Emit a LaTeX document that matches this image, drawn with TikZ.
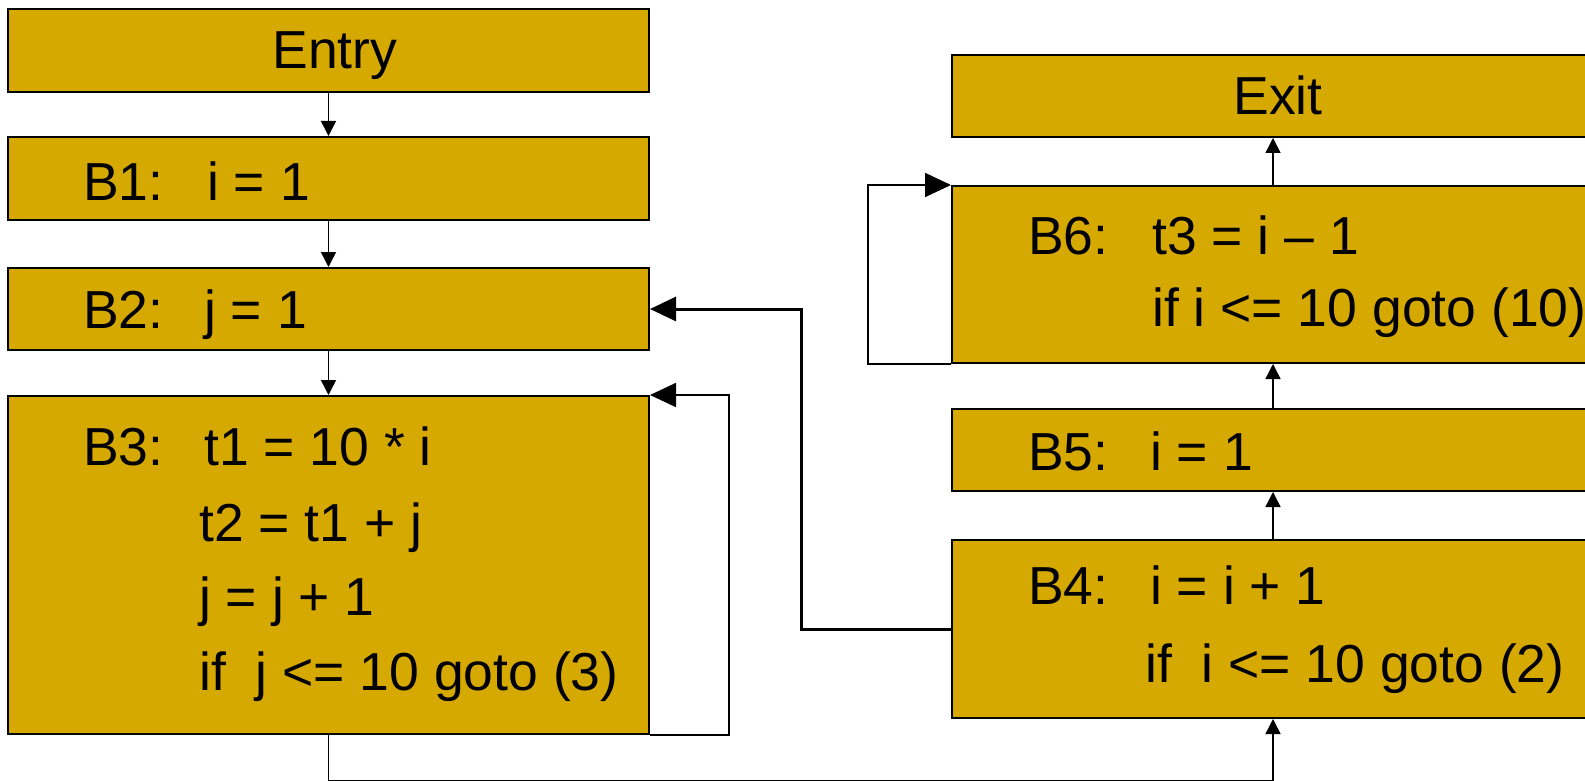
\documentclass[tikz,border=0pt]{standalone}
\usepackage{fontspec}
\setmainfont{Liberation Sans}
\usetikzlibrary{arrows.meta}
\definecolor{blockfill}{RGB}{214,169,0}
\begin{document}
\begin{tikzpicture}[x=1pt,y=-1pt,
  block/.style={draw=black, line width=2pt, fill=blockfill, inner sep=0pt,
                minimum width=641pt},
  code/.style={anchor=base west, inner sep=0pt, font=\fontsize{53.5}{60}\selectfont},
  title/.style={anchor=base, inner sep=0pt, font=\fontsize{53.5}{60}\selectfont},
  flow/.style={line width=1.5pt, -{Triangle[length=15pt,width=15pt]}},
  back/.style={line width=1.8pt, -{Triangle[length=26pt,width=24pt]}},
  ]
\useasboundingbox (0,0) rectangle (1585,781);
\clip (0,0) rectangle (1585,781);

% left column
\node[block, minimum height=83pt] (entry) at (328.5,50.5) {};
\node[block, minimum height=83pt] (b1) at (328.5,178.5) {};
\node[block, minimum height=82pt] (b2) at (328.5,309) {};
\node[block, minimum height=338pt] (b3) at (328.5,565) {};

% right column (runs off the right edge)
\node[block, minimum width=642pt, minimum height=82pt] (exit) at (1273,96) {};
\node[block, minimum width=642pt, minimum height=177pt] (b6) at (1273,274.5) {};
\node[block, minimum width=642pt, minimum height=82pt] (b5) at (1273,450) {};
\node[block, minimum width=642pt, minimum height=178pt] (b4) at (1273,629) {};

% texts
\node[title] (tentry) at (335,69) {Entry};
\node[title] (texit) at (1278,115) {Exit};

\node[code] (lb1) at (83,200) {B1:};
\node[code] (cb1) at (207,200) {i = 1};
\node[code] (lb2) at (83,328) {B2:};
\node[code] (cb2) at (204,328) {j = 1};

\node[code] (lb3) at (83,465) {B3:};
\node[code] (cb3a) at (204,465) {t1 = 10 * i};
\node[code] (cb3b) at (199,541) {t2 = t1 + j};
\node[code] (cb3c) at (199,615) {j = j + 1};
\node[code] (cb3d) at (199,690) {if\ \ j <= 10 goto (3)};

\node[code] (lb6) at (1028,254) {B6:};
\node[code] (cb6a) at (1152,254) {t3 = i – 1};
\node[code] (cb6b) at (1152,326) {if i <= 10 goto (10)};

\node[code] (lb5) at (1028,470) {B5:};
\node[code] (cb5) at (1150,470) {i = 1};

\node[code] (lb4) at (1028,604) {B4:};
\node[code] (cb4a) at (1150,604) {i = i + 1};
\node[code] (cb4b) at (1145,682) {if\ \ i <= 10 goto (2)};

% straight flow edges
\draw[flow] (entry.south) -- (b1.north);
\draw[flow] (b1.south) -- (b2.north);
\draw[flow] (b2.south) -- (b3.north);
\draw[flow] (b4.north) -- (b5.south);
\draw[flow] (b5.north) -- (b6.south);
\draw[flow] (b6.north) -- (exit.south);

% B3 falls through to B4 along the bottom
\draw[flow] (b3.south) -- ++(0,46) -| (b4.south);

% self loops
\draw[back] (b3.south east) -- ++(79,0) |- (b3.north east);
\draw[back] (b6.south west) -- ++(-83,0) |- (b6.north west);

% B4 back to B2
\coordinate (jb) at (801,309);
\draw[back, line width=3pt] (b4.west) -| (jb) -- (b2.east);
\end{tikzpicture}
\end{document}
